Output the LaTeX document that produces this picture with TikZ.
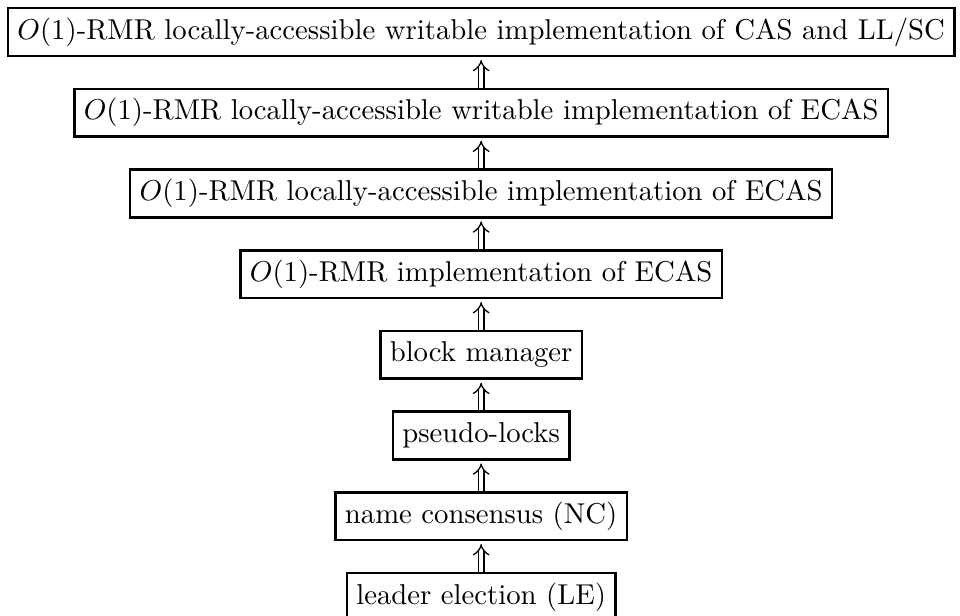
\documentclass[tikz,border=0pt]{standalone}
\usepackage{amsmath}
\usepackage{amssymb}
\usetikzlibrary{arrows.meta,positioning,calc}

\begin{document}
\begin{tikzpicture}[
    node distance=10.6pt,
    layer/.style={rectangle, draw=black, line width=0.9pt, inner sep=3.3pt, text height=7.5pt, text depth=2.5pt},
    implies/.style={double, double distance=1.6pt, line width=0.45pt, -{Implies[length=3.2pt, width=6pt]}, shorten >=1pt},
]

% Layers, from top to bottom
\node[layer] (casll) {$O(1)$-RMR locally-accessible writable implementation of CAS and LL/SC};
\node[layer, below=of casll] (ecasw) {$O(1)$-RMR locally-accessible writable implementation of ECAS};
\node[layer, below=of ecasw] (ecasla) {$O(1)$-RMR locally-accessible implementation of ECAS};
\node[layer, below=of ecasla] (ecas) {$O(1)$-RMR implementation of ECAS};
\node[layer, below=of ecas] (blkmgr) {block manager};
\node[layer, below=of blkmgr] (plocks) {pseudo-locks};
\node[layer, below=of plocks] (nc) {name consensus (NC)};
\node[layer, below=of nc] (le) {leader election (LE)};

% Implications
\draw[implies] (le) -- (nc);
\draw[implies] (nc) -- (plocks);
\draw[implies] (plocks) -- (blkmgr);
\draw[implies] (blkmgr) -- (ecas);
\draw[implies] (ecas) -- (ecasla);
\draw[implies] (ecasla) -- (ecasw);
\draw[implies] (ecasw) -- (casll);

% Frame: the bottom edge of the last box falls outside
\pgfresetboundingbox
\useasboundingbox ($(casll.north west)+(-2.3pt,2.4pt)$) rectangle ($(casll.east |- le.south)+(1.5pt,2.4pt)$);

\end{tikzpicture}
\end{document}
